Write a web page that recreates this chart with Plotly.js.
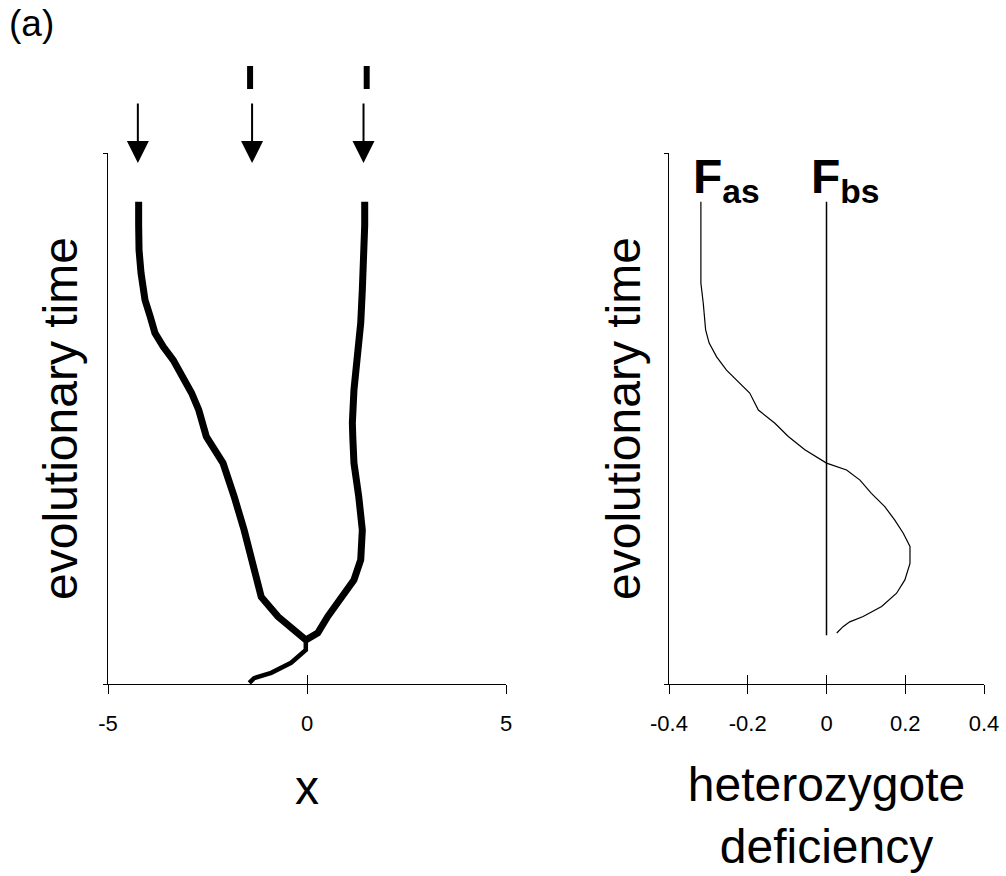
<!DOCTYPE html>
<html>
<head>
<meta charset="utf-8">
<script src="https://cdn.plot.ly/plotly-3.0.1.min.js"></script>
<style>
html,body{margin:0;padding:0;background:#fff;}
#chart{width:1006px;height:876px;}
</style>
</head>
<body>
<div id="chart"></div>
<script>
// ---- data ----
// left panel: trait value x vs. evolutionary time
const timeStem = [0.2, 1.1, 2.1, 4.0, 6.4, 8.3];
const xStem    = [-1.45, -1.33, -0.90, -0.40, -0.03, -0.03];

const timeLeftBranch = [8.3, 10.2, 12.7, 16.4, 22.8, 29.0, 35.3, 41.6, 46.6, 51.6, 54.8, 57.9, 61.0, 63.5, 66.1, 69.2, 72.3, 77.4, 81.7, 86.4, 90.8];
const xLeftBranch    = [-0.03, -0.33, -0.73, -1.15, -1.36, -1.58, -1.83, -2.11, -2.53, -2.72, -2.90, -3.11, -3.36, -3.61, -3.82, -3.94, -4.07, -4.17, -4.22, -4.23, -4.23];

const timeRightBranch = [8.3, 9.6, 12.7, 16.4, 19.6, 23.4, 29.0, 35.3, 41.6, 46.6, 49.2, 55.4, 61.6, 68.0, 74.2, 80.5, 86.4, 90.8];
const xRightBranch    = [-0.03, 0.27, 0.52, 0.89, 1.18, 1.35, 1.39, 1.30, 1.18, 1.15, 1.14, 1.18, 1.27, 1.35, 1.39, 1.43, 1.45, 1.45];

// arrows (branching points) and bars above them
const arrowX = [-4.25, -1.38, 1.42];
const barX   = [-1.43, 1.50];

// right panel: heterozygote deficiency vs. evolutionary time
const timeFas = [90.8, 75.5, 71.7, 66.7, 64.2, 61.6, 59.1, 56.6, 54.8, 51.6, 49.1, 46.6, 44.1, 41.6, 40.3, 38.4, 35.9, 33.4, 30.9, 28.4, 25.9, 22.7, 19.6, 17.1, 14.6, 12.7, 11.7, 10.8, 9.6];
const fas     = [-0.319, -0.319, -0.313, -0.307, -0.298, -0.279, -0.254, -0.220, -0.195, -0.173, -0.131, -0.097, -0.055, 0.0, 0.051, 0.085, 0.114, 0.148, 0.173, 0.195, 0.212, 0.212, 0.199, 0.178, 0.140, 0.093, 0.059, 0.042, 0.026];

const timeFbs = [9.2, 90.8];
const fbs     = [0, 0];

// tick labels
const leftTickVals  = [-5, 0, 5];
const leftTickText  = ['-5', '0', '5'];
const rightTickVals = [-0.4, -0.2, 0, 0.2, 0.4];
const rightTickText = ['-0.4', '-0.2', '0', '0.2', '0.4'];

// ---- layout ----
const W = 1006, H = 876;
const FONT = 'Arial, "Liberation Sans", sans-serif';
const yDom = [(H - 684) / H, (H - 153) / H];

const traces = [
  {x: xStem, y: timeStem, xaxis: 'x', yaxis: 'y', mode: 'lines',
   line: {color: '#000', width: 4.5}, hoverinfo: 'skip'},
  {x: xLeftBranch, y: timeLeftBranch, xaxis: 'x', yaxis: 'y', mode: 'lines',
   line: {color: '#000', width: 7}, hoverinfo: 'skip'},
  {x: xRightBranch, y: timeRightBranch, xaxis: 'x', yaxis: 'y', mode: 'lines',
   line: {color: '#000', width: 7}, hoverinfo: 'skip'},
  {x: fbs, y: timeFbs, xaxis: 'x2', yaxis: 'y2', mode: 'lines',
   line: {color: '#000', width: 1.5}, hoverinfo: 'skip'},
  {x: fas, y: timeFas, xaxis: 'x2', yaxis: 'y2', mode: 'lines',
   line: {color: '#000', width: 1.2}, hoverinfo: 'skip'},
  // helper traces for the inner half of the crossing ticks
  {x: leftTickVals, y: leftTickVals.map(() => 0), xaxis: 'x3', yaxis: 'y', mode: 'markers',
   marker: {opacity: 0}, hoverinfo: 'skip'},
  {x: rightTickVals, y: rightTickVals.map(() => 0), xaxis: 'x4', yaxis: 'y2', mode: 'markers',
   marker: {opacity: 0}, hoverinfo: 'skip'}
];

const baseX = {
  showgrid: false, zeroline: false, showline: true, linecolor: '#000', linewidth: 1,
  ticks: 'outside', ticklen: 9, tickwidth: 1, tickcolor: '#000',
  tickfont: {family: FONT, size: 22, color: '#000'}, ticklabelstandoff: 11,
  fixedrange: true
};
const baseY = {
  showgrid: false, zeroline: false, showline: true, linecolor: '#000', linewidth: 1,
  ticks: 'outside', ticklen: 4, tickwidth: 1, tickcolor: '#000',
  tickvals: [0, 100], showticklabels: false, range: [0, 100], domain: yDom,
  fixedrange: true
};
const overlayX = {
  showgrid: false, zeroline: false, showline: false, ticks: 'inside', ticklen: 9,
  tickwidth: 1, tickcolor: '#000', showticklabels: false, fixedrange: true
};

const layout = {
  width: W, height: H,
  margin: {l: 0, r: 0, t: 0, b: 0},
  paper_bgcolor: '#fff', plot_bgcolor: 'rgba(0,0,0,0)',
  showlegend: false,
  font: {family: FONT, color: '#000'},
  xaxis: Object.assign({}, baseX, {
    domain: [108 / W, 506 / W], range: [-5, 5], anchor: 'y',
    tickvals: leftTickVals, ticktext: leftTickText,
    title: {text: 'x', font: {family: FONT, size: 48, color: '#000'}, standoff: 34}
  }),
  yaxis: Object.assign({}, baseY, {
    anchor: 'x',
    title: {text: 'evolutionary time', font: {family: FONT, size: 48, color: '#000'}, standoff: 10}
  }),
  xaxis2: Object.assign({}, baseX, {
    domain: [669 / W, 984 / W], range: [-0.4, 0.4], anchor: 'y2',
    tickvals: rightTickVals, ticktext: rightTickText,
    title: {text: 'heterozygote<br>deficiency', font: {family: FONT, size: 48, color: '#000'}, standoff: 31}
  }),
  yaxis2: Object.assign({}, baseY, {
    anchor: 'x2',
    title: {text: 'evolutionary time', font: {family: FONT, size: 48, color: '#000'}, standoff: 8}
  }),
  xaxis3: Object.assign({}, overlayX, {
    overlaying: 'x', anchor: 'y', range: [-5, 5], tickvals: leftTickVals
  }),
  xaxis4: Object.assign({}, overlayX, {
    overlaying: 'x2', anchor: 'y2', range: [-0.4, 0.4], tickvals: rightTickVals
  }),
  shapes: barX.map(bx => ({
    type: 'line', xref: 'x', yref: 'paper', x0: bx, x1: bx,
    y0: (H - 89) / H, y1: (H - 66) / H, line: {color: '#000', width: 6}
  })),
  annotations: [
    {xref: 'paper', yref: 'paper', x: 7 / W, y: (H - 1) / H, xanchor: 'left', yanchor: 'top',
     text: '(a)', showarrow: false, font: {family: FONT, size: 37, color: '#000'}},
    {xref: 'x2', yref: 'y2', x: -0.345, y: 95, xanchor: 'left', yanchor: 'middle',
     text: '<b>F<sub>as</sub></b>', showarrow: false, font: {family: FONT, size: 48, color: '#000'}},
    {xref: 'x2', yref: 'y2', x: -0.045, y: 95, xanchor: 'left', yanchor: 'middle',
     text: '<b>F<sub>bs</sub></b>', showarrow: false, font: {family: FONT, size: 48, color: '#000'}}
  ].concat(arrowX.map(ax => ({
    xref: 'x', yref: 'y', x: ax, y: 98.1, ax: 0, ay: -61, text: '',
    showarrow: true, arrowhead: 2, arrowsize: 2.2, arrowwidth: 2, arrowcolor: '#000'
  })))
};

Plotly.newPlot('chart', traces, layout, {displayModeBar: false, staticPlot: true});
</script>
</body>
</html>
